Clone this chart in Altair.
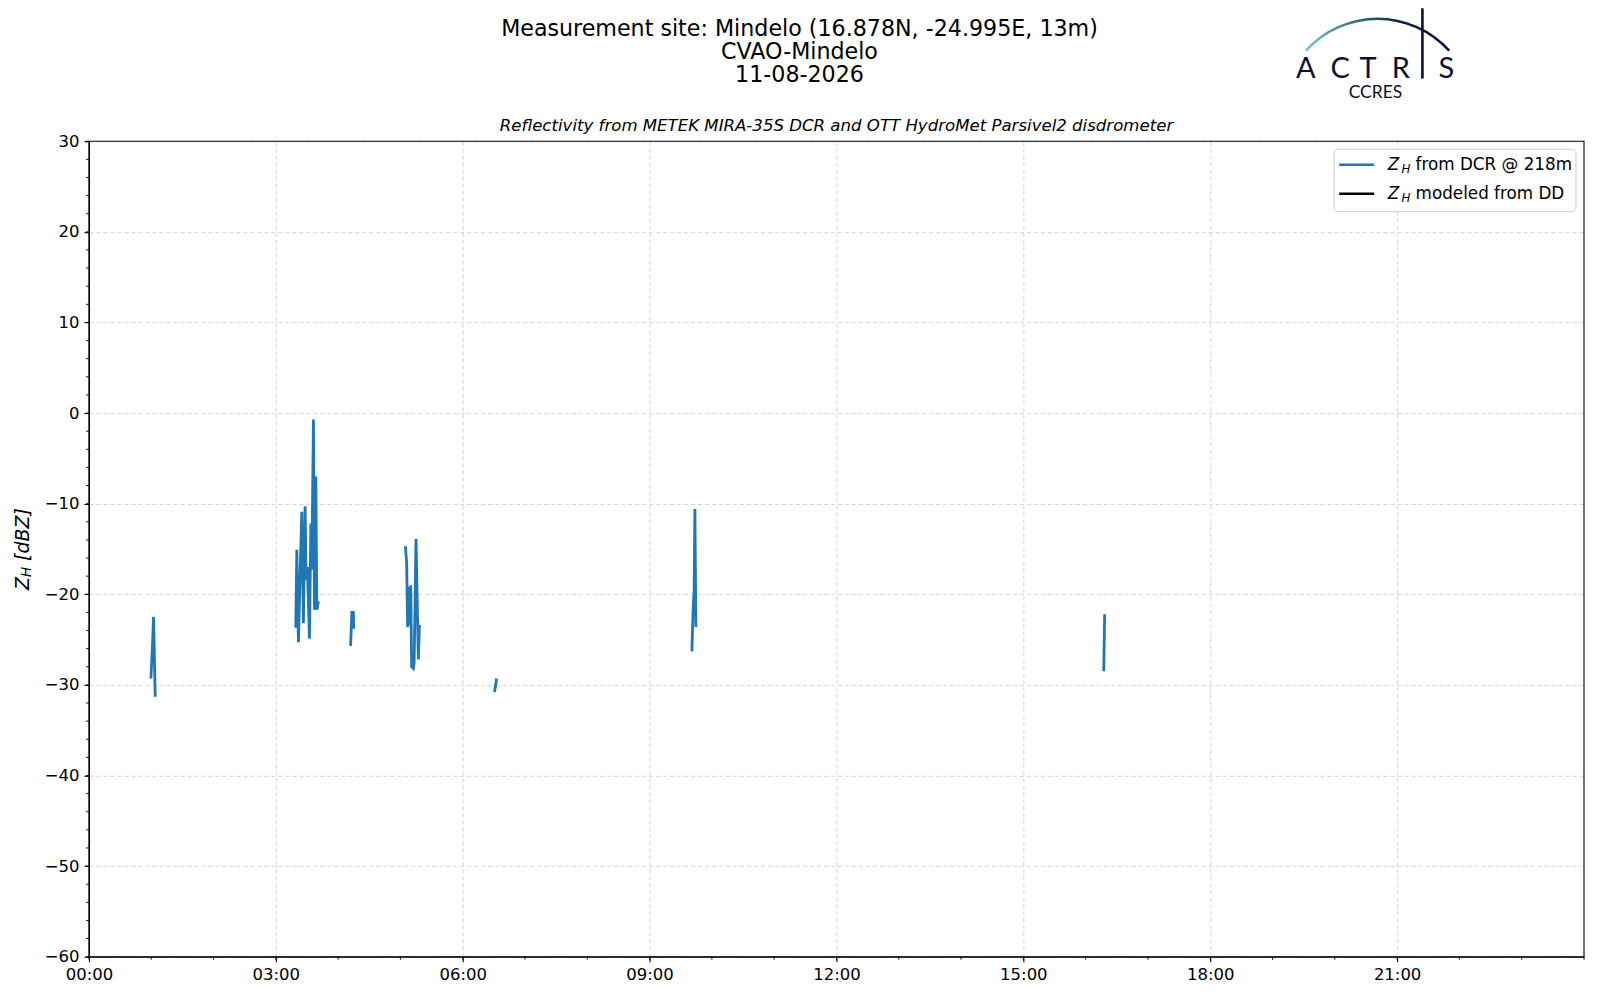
import altair as alt
import pandas as pd

# ---------------- data ----------------
seg1_h = [0.995, 1.02, 1.037, 1.064]
seg1_z = [-29.3, -25.6, -22.5, -31.3]
seg2_h = [3.32, 3.337, 3.363, 3.39, 3.417, 3.443, 3.47, 3.486, 3.507, 3.54,
          3.562, 3.577, 3.604, 3.62, 3.642, 3.658, 3.684]
seg2_z = [-23.7, -15.1, -25.3, -17.7, -10.9, -23.2, -10.3, -18.4, -17.0, -24.9,
          -12.2, -17.3, -0.7, -21.7, -7.0, -21.7, -20.8]
seg3_h = [4.2, 4.22, 4.245, 4.25]
seg3_z = [-25.7, -22.0, -22.0, -23.8]
seg4_h = [5.08, 5.10, 5.115, 5.13, 5.145, 5.166, 5.18, 5.208, 5.22, 5.25, 5.288, 5.305]
seg4_z = [-14.7, -16.5, -23.6, -19.2, -23.4, -19.0, -28.0, -28.2, -27.6, -13.9, -27.2, -23.4]
seg5_h = [6.51, 6.545]
seg5_z = [-30.8, -29.3]
seg6_h = [9.679, 9.70, 9.715, 9.727, 9.743]
seg6_z = [-26.3, -21.4, -19.5, -10.6, -23.6]
seg7_h = [16.29, 16.305]
seg7_z = [-28.5, -22.2]

segments = [(seg1_h, seg1_z), (seg2_h, seg2_z), (seg3_h, seg3_z), (seg4_h, seg4_z),
            (seg5_h, seg5_z), (seg6_h, seg6_z), (seg7_h, seg7_z)]

major_x = [0, 3, 6, 9, 12, 15, 18, 21]
minor_x = list(range(0, 25))
major_y = list(range(-60, 31, 10))
minor_y = list(range(-60, 31, 2))

title_lines = ["Measurement site: Mindelo (16.878N, -24.995E, 13m)", "CVAO-Mindelo", "11-08-2026"]
subtitle = "Reflectivity from METEK MIRA-35S DCR and OTT HydroMet Parsivel2 disdrometer"
legend_labels = ["from DCR @ 218m", "modeled from DD"]
legend_colors = ["#1f77b4", "#000000"]

rows = []
for i, (hs, zs) in enumerate(segments):
    for h, z in zip(hs, zs):
        rows.append({"h": h, "z": z, "seg": i})
df = pd.DataFrame(rows)

# ---------------- layout ----------------
W, H = 1496, 816
OX, OY = 89, 141          # page position of the plot origin
FONT = "DejaVu Sans"
NAVY = "#0b0f35"


def px(x):
    return x - OX


def py(y):
    return y - OY


one = alt.Data(values=[{"a": 1}])

xscale = alt.Scale(domain=[0, 24], nice=False, zero=False)
yscale = alt.Scale(domain=[-60, 30], nice=False, zero=False)

label_expr = "(datum.value < 10 ? '0' : '') + datum.value + ':00'"
xaxis = alt.Axis(values=major_x, labelExpr=label_expr, title=None, labelFlush=False,
                 labelOverlap=False, grid=True, tickSize=5, labelPadding=5)
yaxis = alt.Axis(values=major_y, format="d", title=None, labelFlush=False,
                 labelOverlap=False, grid=True, tickSize=5, labelPadding=5)

main = alt.Chart(df).mark_line(color="#1f77b4", strokeWidth=2.8).encode(
    x=alt.X("h:Q", scale=xscale, axis=xaxis),
    y=alt.Y("z:Q", scale=yscale, axis=yaxis),
    detail="seg:N",
    order="h:Q",
)

minor_x_df = pd.DataFrame({"h": minor_x})
minor_y_df = pd.DataFrame({"z": minor_y})

mx = alt.Chart(minor_x_df).mark_rule(color="black", strokeWidth=0.9).encode(
    x=alt.X("h:Q", scale=xscale, axis=xaxis),
    y=alt.value(H), y2=alt.value(H + 3),
)
my = alt.Chart(minor_y_df).mark_rule(color="black", strokeWidth=0.9).encode(
    y=alt.Y("z:Q", scale=yscale, axis=yaxis),
    x=alt.value(0), x2=alt.value(-3),
)

layers = [mx, my, main]

# solid frame drawn above the grid
layers.append(alt.Chart(one).mark_rect(fill="white", fillOpacity=0, stroke="black",
                                       strokeWidth=1.1).encode(
    x=alt.value(0), x2=alt.value(W), y=alt.value(0), y2=alt.value(H)))


def text(t, x, y, size, **kw):
    props = dict(text=t, fontSize=size, font=FONT, color="black",
                 align="center", baseline="middle")
    props.update(kw)
    return alt.Chart(one).mark_text(**props).encode(x=alt.value(x), y=alt.value(y))


# figure title (centred on the figure)
for t, yy in zip(title_lines, [29.0, 52.0, 75.0]):
    layers.append(text(t, px(800), py(yy), 22.2))
# axes title (italic, centred on plot)
layers.append(text(subtitle, W / 2, py(126), 16.6, fontStyle="italic"))

# y-axis title: Z_H [dBZ] (rotated)
layers.append(text("Z", px(23), py(590), 19, fontStyle="italic", angle=270, align="left"))
layers.append(text("H", px(27.5), py(577), 13.5, fontStyle="italic", angle=270, align="left"))
layers.append(text("[dBZ]", px(23), py(561), 19, fontStyle="italic", angle=270, align="left"))

# legend
layers.append(alt.Chart(one).mark_rect(fill="white", fillOpacity=0.8, stroke="#cccccc",
                                       strokeWidth=1, cornerRadius=4).encode(
    x=alt.value(px(1335)), x2=alt.value(px(1577)),
    y=alt.value(py(149)), y2=alt.value(py(211.5))))
for lab, col, yy in zip(legend_labels, legend_colors, [164.5, 193.5]):
    layers.append(alt.Chart(one).mark_rule(color=col, strokeWidth=2.6).encode(
        x=alt.value(px(1340)), x2=alt.value(px(1375)), y=alt.value(py(yy))))
    layers.append(text("Z", px(1388.5), py(yy), 16.8, fontStyle="italic", align="left"))
    layers.append(text("H", px(1402.5), py(yy + 4), 11.8, fontStyle="italic", align="left"))
    layers.append(text(lab, px(1416.5), py(yy), 16.8, align="left"))

# ACTRIS / CCRES logo
grad = alt.Gradient(gradient="linear",
                    stops=[alt.GradientStop(color="#7cc8c4", offset=0),
                           alt.GradientStop(color="#1b5a73", offset=0.45),
                           alt.GradientStop(color=NAVY, offset=0.75),
                           alt.GradientStop(color=NAVY, offset=1)],
                    x1=0, x2=1, y1=0, y2=0)
layers.append(alt.Chart(one).mark_arc(fill=grad, radius=98, radius2=95.5,
                                      theta=6.2832 - 0.835, theta2=6.2832 + 0.835).encode(
    x=alt.value(px(1378.4)), y=alt.value(py(115.3))))
layers.append(alt.Chart(one).mark_rule(color=NAVY, strokeWidth=2.6).encode(
    x=alt.value(px(1423.3)), y=alt.value(py(8)), y2=alt.value(py(78.3))))
for letter, xx in zip(["A", "C", "T", "R", "S"], [1306.7, 1341.0, 1369.0, 1401.7, 1447.3]):
    layers.append(text(letter, px(xx), py(68.5), 29, font="Lato", fontWeight=400, color=NAVY))
layers.append(text("CCRES", px(1376.3), py(92.5), 17.5, font="Lato", color=NAVY))

chart = alt.layer(*layers).properties(
    width=W, height=H,
    background="white",
    autosize=alt.AutoSizeParams(type="none"),
    padding={"left": OX - 8, "top": OY - 8, "right": 8, "bottom": 30},
).configure_view(stroke=None).configure_axis(
    domainColor="black", domainWidth=1.1, tickColor="black", tickWidth=1.1,
    labelFont=FONT, labelFontSize=16.5, labelColor="black",
    gridColor="#c8c8c8", gridDash=[4, 3], gridWidth=0.8,
)

chart.save("out.html", embed_options={"renderer": "svg", "actions": False})
